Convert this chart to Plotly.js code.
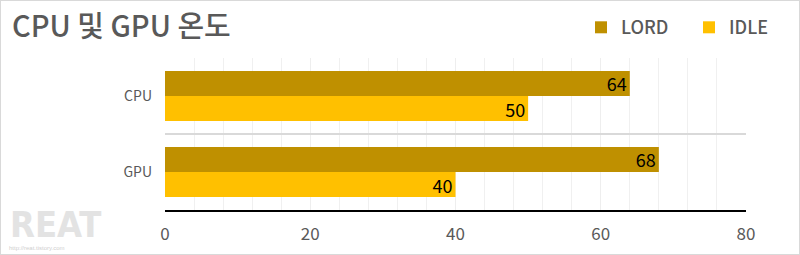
<!DOCTYPE html>
<html><head><meta charset="utf-8">
<script src="https://cdn.plot.ly/plotly-3.0.1.min.js"></script>
<style>
html,body{margin:0;padding:0;background:#fff;}
#wrap{position:relative;width:800px;height:255px;}
#chart{width:800px;height:255px;}
#border{position:absolute;left:0;top:0;width:798px;height:253px;border:1px solid #d9d9d9;pointer-events:none;}
</style></head>
<body>
<div id="wrap"><div id="chart"></div><div id="border"></div></div>
<script>
const categories = ['CPU', 'GPU'];
const seriesNames = ['LORD', 'IDLE'];
const lordValues = [64, 68];
const idleValues = [50, 40];
const xTicks = [0, 20, 40, 60, 80];
const titleText = 'CPU 및 GPU 온도';

const FONT = '"Noto Sans CJK KR", "Noto Sans", sans-serif';
const data = [
  {type:'bar', orientation:'h', name:seriesNames[0], y:categories, x:lordValues,
   marker:{color:'#BF9000'}, text:lordValues.map(String), textposition:'inside', textangle:0,
   insidetextanchor:'end', constraintext:'none', textfont:{color:'#000', size:18, family:FONT}},
  {type:'bar', orientation:'h', name:seriesNames[1], y:categories, x:idleValues,
   marker:{color:'#FFC000'}, text:idleValues.map(String), textposition:'inside', textangle:0,
   insidetextanchor:'end', constraintext:'none', textfont:{color:'#000', size:18, family:FONT}}
];
const layout = {
  width:800, height:255,
  margin:{l:165, r:54, t:58, b:45, autoexpand:false},
  paper_bgcolor:'#fff', plot_bgcolor:'#fff',
  font:{family:FONT, color:'#595959'},
  barmode:'group', bargap:0.34, bargroupgap:0,
  title:{text:titleText, xref:'container', x:0.015, xanchor:'left', yref:'container', y:0.895, yanchor:'middle',
         font:{size:29, color:'#595959', family:FONT, weight:500}},
  showlegend:true,
  legend:{orientation:'h', x:0.716, xanchor:'left', y:1.2, yanchor:'middle', traceorder:'normal',
          font:{size:18, color:'#595959', family:FONT, weight:500}, entrywidth:63, entrywidthmode:'pixels',
          itemwidth:30, bgcolor:'rgba(0,0,0,0)'},
  xaxis:{range:[0,80], tickvals:xTicks, ticktext:xTicks.map(String), showgrid:true, gridcolor:'#eeeeee', gridwidth:1,
         minor:{dtick:4, showgrid:true, gridcolor:'#f0f0f0', gridwidth:1},
         zeroline:false, showline:true, linecolor:'#000', linewidth:2, ticks:'', ticklabelstandoff:8,
         tickfont:{size:17, color:'#595959', family:FONT}, fixedrange:true},
  yaxis:{type:'category', autorange:'reversed', tickson:'boundaries', showgrid:true, gridcolor:'#d9d9d9', gridwidth:2,
         ticks:'', ticklabelstandoff:12, showline:false, zeroline:false,
         tickfont:{size:14, color:'#595959', family:FONT}, fixedrange:true},
  annotations:[
    {xref:'paper', yref:'paper', x:-0.27, y:0.05, xanchor:'left', yanchor:'top', showarrow:false,
     text:'<b>REAT</b>', font:{size:36, color:'#e3e3e3', family:'"Liberation Sans Narrow", "DejaVu Sans Condensed", sans-serif'}},
    {xref:'paper', yref:'paper', x:-0.272, y:-0.25, xanchor:'left', yanchor:'middle', showarrow:false,
     text:'http://reat.tistory.com', font:{size:6, color:'#cfcfcf', family:'"Liberation Sans", sans-serif'}}
  ]
};
Plotly.newPlot('chart', data, layout, {displayModeBar:false, staticPlot:true});
</script>
</body></html>
